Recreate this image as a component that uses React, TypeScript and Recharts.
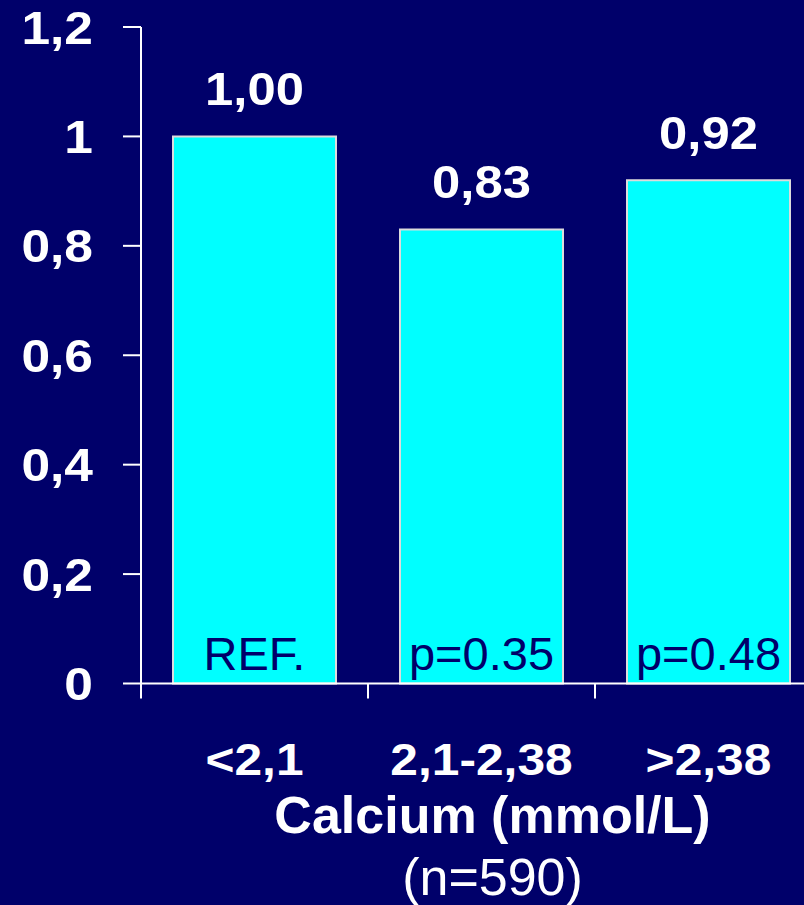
import React from 'react';
import { BarChart, Bar, XAxis, YAxis, LabelList } from 'recharts';

const categories = ['<2,1', '2,1-2,38', '>2,38'];
const hazardRatios = [1.0, 0.83, 0.92];
const pValueNotes = ['REF.', 'p=0.35', 'p=0.48'];
const yTicks = [0, 0.2, 0.4, 0.6, 0.8, 1, 1.2];
const axisTitle = 'Calcium (mmol/L)';
const sampleNote = '(n=590)';

const data = categories.map((c, i) => ({ category: c, value: hazardRatios[i], note: pValueNotes[i] }));

const NAVY = '#00006a';
const CYAN = '#00ffff';
const FONT = '"Liberation Sans", Arial, Helvetica, sans-serif';
const X_TICK_SIZE = 15;
const X_TICK_MARGIN = 8;

const fmtComma = (v: number | string) => String(v).replace('.', ',');

const YTick = (props: any) => {
  const { x, y, payload } = props;
  return (
    <g transform={`translate(${x},${y})`}>
      <text
        transform="scale(1.12,1)"
        x={0}
        y={16.5}
        textAnchor="end"
        fill="#ffffff"
        fontFamily={FONT}
        fontWeight="bold"
        fontSize={46}
      >
        {fmtComma(payload.value)}
      </text>
    </g>
  );
};

const XTick = (props: any) => {
  const { x, y, payload, width, visibleTicksCount } = props;
  const band = (Number(width) || 680) / (visibleTicksCount || categories.length);
  const axisY = y - X_TICK_SIZE - X_TICK_MARGIN;
  return (
    <g>
      <line x1={x - band / 2} x2={x - band / 2} y1={axisY} y2={axisY + 15} stroke="#ffffff" strokeWidth={2} />
      <g transform={`translate(${x},${axisY + 91.5})`}>
        <text
          transform="scale(1.13,1)"
          x={0}
          y={0}
          textAnchor="middle"
          fill="#ffffff"
          fontFamily={FONT}
          fontWeight="bold"
          fontSize={44}
        >
          {payload.value}
        </text>
      </g>
    </g>
  );
};

const AxisTitle = (props: any) => {
  const vb = props.viewBox || {};
  const cx = (vb.x || 0) + (vb.width || 0) / 2 + 11;
  const top = vb.y || 0;
  return (
    <g>
      <text x={cx} y={top + 149.5} textAnchor="middle" fill="#ffffff" fontFamily={FONT} fontWeight="bold" fontSize={52}>
        {axisTitle}
      </text>
      <text x={cx} y={top + 211.5} textAnchor="middle" fill="#ffffff" fontFamily={FONT} fontSize={52}>
        {sampleNote}
      </text>
    </g>
  );
};

const TopLabel = (props: any) => {
  const { x, y, width, value } = props;
  const cx = Number(x) + Number(width) / 2;
  return (
    <g transform={`translate(${cx},${Number(y) - 31})`}>
      <text transform="scale(1.08,1)" x={0} y={0} textAnchor="middle" fill="#ffffff" fontFamily={FONT} fontWeight="bold" fontSize={47}>
        {Number(value).toFixed(2).replace('.', ',')}
      </text>
    </g>
  );
};

const NoteLabel = (props: any) => {
  const { x, y, width, height, value } = props;
  const cx = Number(x) + Number(width) / 2;
  return (
    <text x={cx} y={Number(y) + Number(height) - 14} textAnchor="middle" fill={NAVY} fontFamily={FONT} fontSize={47}>
      {value}
    </text>
  );
};

export default function App() {
  return (
    <div
      style={{
        position: 'absolute',
        left: 0,
        top: 0,
        width: 804,
        height: 905,
        overflow: 'hidden',
        background: NAVY,
      }}
    >
      <BarChart width={822} height={905} data={data} margin={{ top: 27, right: 0, bottom: 0, left: 0 }}>
        <YAxis
          width={141}
          domain={[0, 1.2]}
          ticks={yTicks}
          interval={0}
          tickSize={18}
          tickMargin={30}
          axisLine={{ stroke: '#ffffff', strokeWidth: 2 }}
          tickLine={{ stroke: '#ffffff', strokeWidth: 2 }}
          tick={<YTick />}
        />
        <XAxis
          dataKey="category"
          height={221.5}
          interval={0}
          tickSize={X_TICK_SIZE}
          tickMargin={X_TICK_MARGIN}
          tickLine={false}
          axisLine={{ stroke: '#ffffff', strokeWidth: 2 }}
          tick={<XTick />}
          label={<AxisTitle />}
        />
        <Bar dataKey="value" fill={CYAN} stroke="#dcdcdc" strokeWidth={2} barSize={163} isAnimationActive={false}>
          <LabelList dataKey="value" content={<TopLabel />} />
          <LabelList dataKey="note" content={<NoteLabel />} />
        </Bar>
      </BarChart>
    </div>
  );
}
